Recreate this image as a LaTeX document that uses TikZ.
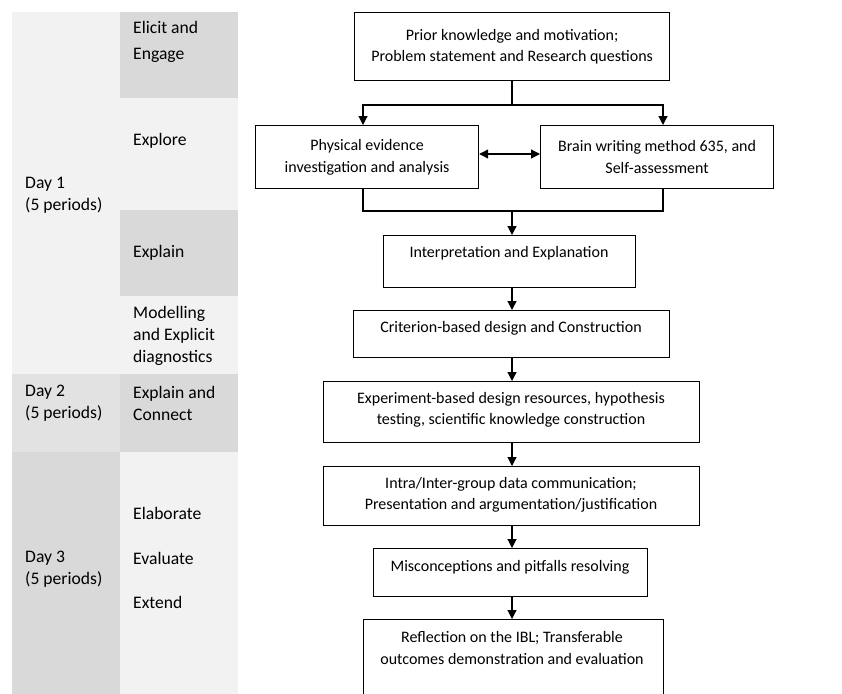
\documentclass[tikz,border=0pt]{standalone}
\usepackage{fontspec}
\setmainfont{Carlito}
\usetikzlibrary{arrows.meta}
\definecolor{cellL}{HTML}{F2F2F2}
\definecolor{cellD}{HTML}{D9D9D9}
\definecolor{cellM}{HTML}{E2E2E2}
\begin{document}
\begin{tikzpicture}[x=1pt,y=-1pt,
  box/.style={draw=black, line width=1.2pt, fill=white, inner sep=0pt, anchor=north west},
  lbl/.style={font=\fontsize{16}{21.5}\selectfont, align=center, inner sep=0pt, text=black},
  cell/.style={font=\fontsize{17.6}{22}\selectfont, align=left, anchor=west, inner sep=0pt, text=black},
  conn/.style={line width=1.2pt},
  arr/.style={conn, -{Triangle[length=9pt,width=9pt]}},
  darr/.style={conn, {Triangle[length=9pt,width=9pt]}-{Triangle[length=9pt,width=9pt]}},
]
\useasboundingbox (0,0) rectangle (842,693);
\clip (0,0) rectangle (842,693);
\fill[white] (0,0) rectangle (842,693);
% left table
\fill[cellL] (12,12) rectangle (120,374);
\fill[cellD] (120,12) rectangle (238,98);
\fill[cellL] (120,98) rectangle (238,210);
\fill[cellD] (120,210) rectangle (238,296);
\fill[cellL] (120,296) rectangle (238,374);
\fill[cellM] (12,374) rectangle (120,452);
\fill[cellD] (120,374) rectangle (238,452);
\fill[cellD] (12,452) rectangle (120,700);
\fill[cellL] (120,452) rectangle (238,700);

\node[cell, font=\fontsize{17.6}{26.5}\selectfont] (c1) at (133,42) {Elicit and\\Engage};
\node[cell] (c2) at (133,141) {Explore};
\node[cell] (c3) at (133,253) {Explain};
\node[cell] (c4) at (133,336) {Modelling\\and Explicit\\diagnostics};
\node[cell] (c5) at (133,403) {Explain and\\Connect};
\node[cell] (c6) at (133,513) {Elaborate};
\node[cell] (c7) at (133,558) {Evaluate};
\node[cell] (c8) at (133,602) {Extend};
\node[cell] (d1) at (25,195) {Day 1\\(5 periods)};
\node[cell] (d2) at (25,403) {Day 2\\(5 periods)};
\node[cell] (d3) at (25,569) {Day 3\\(5 periods)};

% flowchart boxes
\node[box, minimum width=315pt, minimum height=68pt] (b1) at (354,12) {};
\node[lbl] (t1) at (b1.center) {Prior knowledge and motivation;\\Problem statement and Research questions};
\node[box, minimum width=223pt, minimum height=63pt] (b2) at (255,125) {};
\node[lbl] (t2) at (b2.center) {Physical evidence\\investigation and analysis};
\node[box, minimum width=233pt, minimum height=63pt] (b3) at (540,125) {};
\node[lbl] (t3) at (b3.center) {Brain writing method 635, and\\Self-assessment};
\node[box, minimum width=252pt, minimum height=52pt] (b4) at (383,235) {};
\node[lbl] (t4) at (509,253) {Interpretation and Explanation};
\node[box, minimum width=316pt, minimum height=47pt] (b5) at (353,310) {};
\node[lbl] (t5) at (511,328) {Criterion-based design and Construction};
\node[box, minimum width=376pt, minimum height=61pt] (b6) at (323,381) {};
\node[lbl] (t6) at (511,410) {Experiment-based design resources, hypothesis\\testing, scientific knowledge construction};
\node[box, minimum width=376pt, minimum height=59pt] (b7) at (323,466) {};
\node[lbl] (t7) at (511,495) {Intra/Inter-group data communication;\\Presentation and argumentation/justification};
\node[box, minimum width=274pt, minimum height=48pt] (b8) at (373,548) {};
\node[lbl] (t8) at (510,567) {Misconceptions and pitfalls resolving};
\node[box, minimum width=300pt, minimum height=100pt] (b9) at (363,619) {};
\node[lbl] (t9) at (512,648) {Reflection on the IBL; Transferable\\outcomes demonstration and evaluation};

% connectors
\coordinate (s1) at (512,105);
\coordinate (j1) at (512,211);
\draw[conn] (b1.south -| s1) -- (s1);
\draw[arr] (s1) -| (b2.north -| 363,0);
\draw[arr] (s1) -| (b3.north -| 663,0);
\draw[darr] (b2.east |- 0,154) -- (b3.west |- 0,154);
\draw[conn] (b2.south -| 363,0) |- (j1) -| (b3.south -| 663,0);
\draw[arr] (j1) -- (b4.north -| j1);
\draw[arr] (b4.south -| j1) -- (b5.north -| j1);
\draw[arr] (b5.south -| j1) -- (b6.north -| j1);
\draw[arr] (b6.south -| j1) -- (b7.north -| j1);
\draw[arr] (b7.south -| j1) -- (b8.north -| j1);
\draw[arr] (b8.south -| j1) -- (b9.north -| j1);
\end{tikzpicture}
\end{document}
